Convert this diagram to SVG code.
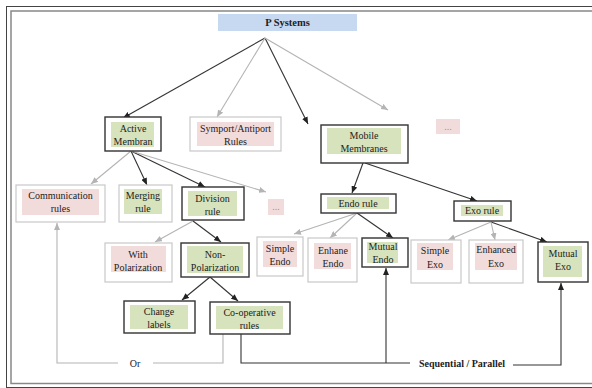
<svg xmlns="http://www.w3.org/2000/svg" width="592" height="388" viewBox="0 0 592 388">
<defs>
<style>
text{font-family:"Liberation Serif","Times New Roman",serif;font-size:10px;fill:#222;text-anchor:middle}
.b{font-weight:bold}
.dk{fill:#fff;stroke:#333;stroke-width:1.4}
.lt{fill:#fff;stroke:#c8c8c8;stroke-width:1.2}
.g{fill:#d7e3bc}
.p{fill:#f2dcdb}
.cb{fill:none;stroke:#333;stroke-width:1.1}
.cg{fill:none;stroke:#b4b4b4;stroke-width:1.1}
.ab{marker-end:url(#ahb)}
.ag{marker-end:url(#ahg)}
.dots{fill:#999}
</style>
<marker id="ahb" markerUnits="userSpaceOnUse" markerWidth="7" markerHeight="6" refX="7" refY="3" orient="auto"><path d="M0,0 L7,3 L0,6 z" fill="#222"/></marker>
<marker id="ahg" markerUnits="userSpaceOnUse" markerWidth="7" markerHeight="6" refX="7" refY="3" orient="auto"><path d="M0,0 L7,3 L0,6 z" fill="#b4b4b4"/></marker>
</defs>
<rect x="0" y="0" width="592" height="388" fill="#fff"/>
<rect x="6.5" y="6.5" width="600" height="381" fill="none" stroke="#444" stroke-width="1"/>
<rect x="11" y="11" width="600" height="372.5" fill="none" stroke="#888" stroke-width="1.5"/>

<g id="connectors">
<path class="cb ab" d="M265,38 L123,118"/>
<path class="cb ab" d="M265,38 L308,124"/>
<path class="cg ag" d="M265,38 L217,117"/>
<path class="cg ag" d="M265,38 L388,110"/>
<path class="cb ab" d="M131,151 L147,185"/>
<path class="cb ab" d="M131,151 L205,187"/>
<path class="cg ag" d="M131,151 L91,184"/>
<path class="cg ag" d="M131,151 L266,192"/>
<path class="cb ab" d="M193,221 L221,242"/>
<path class="cg ag" d="M193,221 L155,242"/>
<path class="cb ab" d="M363,163 L352,193"/>
<path class="cb ab" d="M365,163 L477,201"/>
<path class="cb ab" d="M357,213 L393,238"/>
<path class="cg ag" d="M357,213 L294,234"/>
<path class="cg ag" d="M357,213 L330,238"/>
<path class="cb ab" d="M491,222 L547,242"/>
<path class="cg ag" d="M491,222 L448,240"/>
<path class="cg ag" d="M491,222 L495,240"/>
<path class="cb ab" d="M210,277 L182,300"/>
<path class="cb ab" d="M210,277 L238,301"/>
<path class="cg" d="M223,334 V363 H153"/>
<path class="cg ag" d="M118,363 H57 V223"/>
<path class="cb" d="M241,334 V363 H410"/>
<path class="cb ab" d="M386,363 V268"/>
<path class="cb ab" d="M513,365 H561 V283"/>
<text x="135" y="366.5">Or</text>
<text class="b" x="462" y="366.5">Sequential / Parallel</text>
</g>

<g id="psystems">
<rect x="218" y="14" width="139" height="17" fill="#c6d9f1"/>
<text class="b" x="287.5" y="26" style="font-size:10.5px">P Systems</text>
</g>

<g id="active">
<rect class="dk" x="105" y="117" width="56" height="34"/>
<rect class="g" x="111" y="122" width="43" height="25"/>
<text x="133" y="132">Active</text>
<text x="133" y="145">Membran</text>
</g>

<g id="symport">
<rect class="lt" x="190" y="117" width="91" height="34"/>
<rect class="p" x="197" y="122" width="77" height="24"/>
<text x="235.5" y="131.5">Symport/Antiport</text>
<text x="235.5" y="145">Rules</text>
</g>

<g id="mobile">
<rect class="dk" x="321" y="125" width="87" height="38"/>
<rect class="g" x="327" y="128" width="74" height="26"/>
<text x="364" y="138.5">Mobile</text>
<text x="364" y="151.5">Membranes</text>
</g>

<g id="more1">
<rect class="p" x="436" y="119" width="24" height="15"/>
<text class="dots" x="448" y="130">...</text>
</g>

<g id="communication">
<rect class="lt" x="16" y="185" width="89" height="37"/>
<rect class="p" x="22" y="189" width="77" height="26"/>
<text x="60.5" y="198.5">Communication</text>
<text x="60.5" y="211.5">rules</text>
</g>

<g id="merging">
<rect class="lt" x="119" y="185" width="53" height="37"/>
<rect class="g" x="124" y="189" width="38" height="25"/>
<text x="143" y="198.5">Merging</text>
<text x="143" y="211.5">rule</text>
</g>

<g id="division">
<rect class="dk" x="182" y="187" width="62" height="33"/>
<rect class="g" x="188" y="191" width="49" height="25"/>
<text x="212.5" y="202">Division</text>
<text x="212.5" y="215">rule</text>
</g>

<g id="more2">
<rect class="p" x="268" y="199" width="16" height="16"/>
<text class="dots" x="276" y="210">...</text>
</g>

<g id="endorule">
<rect class="dk" x="321" y="194" width="75" height="19"/>
<rect class="g" x="327" y="197" width="62" height="12"/>
<text x="358" y="206.5">Endo rule</text>
</g>

<g id="exorule">
<rect class="dk" x="454" y="201" width="57" height="20"/>
<rect class="g" x="461" y="205" width="42" height="11"/>
<text x="482" y="214">Exo rule</text>
</g>

<g id="withpol">
<rect class="lt" x="105" y="243" width="67" height="39"/>
<rect class="p" x="111" y="246" width="55" height="26"/>
<text x="138" y="257.5">With</text>
<text x="138" y="270.5">Polarization</text>
</g>

<g id="nonpol">
<rect class="dk" x="181" y="243" width="68" height="34"/>
<rect class="g" x="187" y="246" width="56" height="27"/>
<text x="215" y="257.5">Non-</text>
<text x="215" y="270.5">Polarization</text>
</g>

<g id="simpleendo">
<rect class="lt" x="257" y="237" width="46" height="39"/>
<rect class="p" x="263" y="241" width="34" height="26"/>
<text x="280" y="251.5">Simple</text>
<text x="280" y="264.5">Endo</text>
</g>

<g id="enhaneendo">
<rect class="lt" x="308" y="238" width="49" height="44"/>
<rect class="p" x="314" y="243" width="37" height="26"/>
<text x="333" y="253.5">Enhane</text>
<text x="333" y="267">Endo</text>
</g>

<g id="mutualendo">
<rect class="dk" x="362" y="238" width="46" height="29"/>
<rect class="g" x="367" y="242" width="31" height="21"/>
<text x="383" y="250">Mutual</text>
<text x="383" y="262.5">Endo</text>
</g>

<g id="simpleexo">
<rect class="lt" x="411" y="240" width="50" height="43"/>
<rect class="p" x="417" y="243" width="36" height="27"/>
<text x="435" y="254">Simple</text>
<text x="435" y="267.5">Exo</text>
</g>

<g id="enhancedexo">
<rect class="lt" x="469" y="240" width="54" height="43"/>
<rect class="p" x="475" y="243" width="42" height="27"/>
<text x="496" y="253">Enhanced</text>
<text x="496" y="267">Exo</text>
</g>

<g id="mutualexo">
<rect class="dk" x="538" y="242" width="50" height="40"/>
<rect class="g" x="543" y="246" width="39" height="31"/>
<text x="563" y="257">Mutual</text>
<text x="563" y="269.5">Exo</text>
</g>

<g id="change">
<rect class="dk" x="124" y="301" width="71" height="32"/>
<rect class="g" x="130" y="305" width="58" height="24"/>
<text x="159" y="315">Change</text>
<text x="159" y="327.5">labels</text>
</g>

<g id="cooperative">
<rect class="dk" x="210" y="302" width="80" height="32"/>
<rect class="g" x="216" y="306" width="67" height="23"/>
<text x="249.5" y="315.5">Co-operative</text>
<text x="249.5" y="329">rules</text>
</g>
</svg>
